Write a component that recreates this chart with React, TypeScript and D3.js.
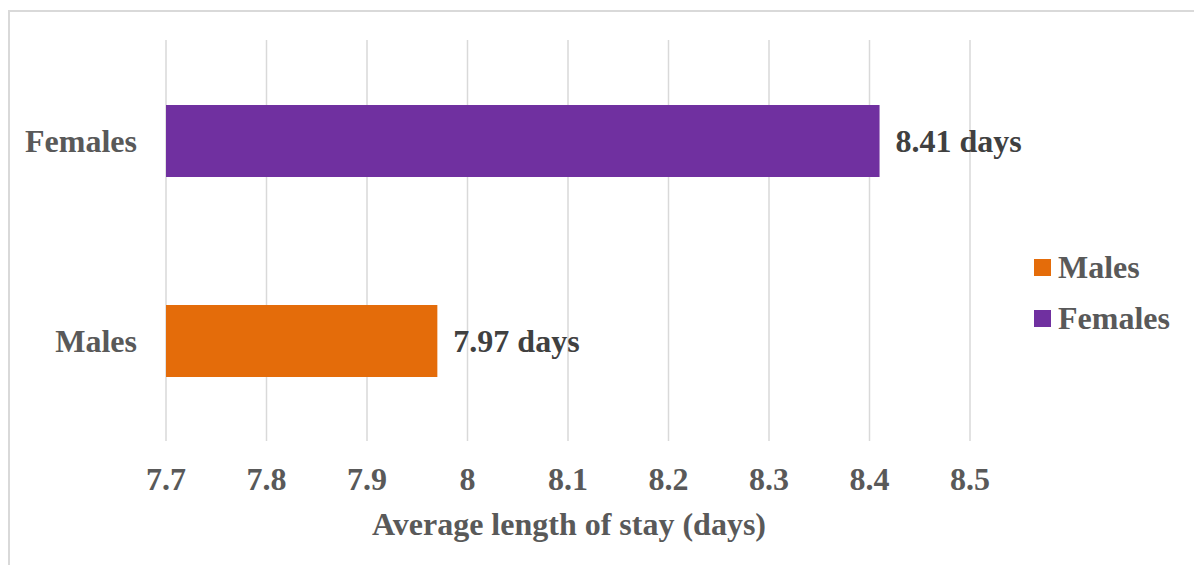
import React from "react";
import * as d3 from "d3";

const categories = ["Females", "Males"];
const values = [8.41, 7.97];
const labels = ["8.41 days", "7.97 days"];
const tickValues = [7.7, 7.8, 7.9, 8.0, 8.1, 8.2, 8.3, 8.4, 8.5];
const tickLabels = ["7.7", "7.8", "7.9", "8", "8.1", "8.2", "8.3", "8.4", "8.5"];
const legendItems = ["Males", "Females"];
const colors: Record<string, string> = { Females: "#7030A0", Males: "#E46C0A" };

const W = 1194;
const H = 565;
const FONT = "'Liberation Serif', 'Times New Roman', serif";
const FS = 32;

export default function App() {
  const x = d3.scaleLinear().domain([7.7, 8.5]).range([166, 970]);
  const y = d3
    .scaleBand<string>()
    .domain(categories)
    .range([41, 441])
    .paddingInner(0.64)
    .paddingOuter(0.32);
  const bw = y.bandwidth();

  return (
    <svg
      width={W}
      height={H}
      style={{ position: "absolute", left: 0, top: 0, background: "#fff" }}
      fontFamily={FONT}
      fontWeight="bold"
    >
      <rect x={9} y={11} width={W + 20} height={H + 20} fill="#fff" stroke="#d9d9d9" strokeWidth={2} />
      {tickValues.map((t) => (
        <line key={t} x1={x(t)} x2={x(t)} y1={40} y2={441} stroke="#d9d9d9" strokeWidth={1.5} />
      ))}
      {categories.map((c, i) => (
        <g key={c}>
          <rect x={x(7.7)} y={y(c)} width={x(values[i]) - x(7.7)} height={bw} fill={colors[c]} />
          <text x={137} y={(y(c) as number) + bw / 2 + 10.5} textAnchor="end" fontSize={FS} fill="#595959">
            {c}
          </text>
          <text x={x(values[i]) + 16} y={(y(c) as number) + bw / 2 + 11} fontSize={FS} fill="#404040">
            {labels[i]}
          </text>
        </g>
      ))}
      {tickValues.map((t, i) => (
        <text key={t} x={x(t)} y={490} textAnchor="middle" fontSize={FS} fill="#595959">
          {tickLabels[i]}
        </text>
      ))}
      <text x={(x(7.7) + x(8.5)) / 2 + 1} y={535} textAnchor="middle" fontSize={FS} fill="#595959">
        Average length of stay (days)
      </text>
      {legendItems.map((l, i) => (
        <g key={l}>
          <rect x={1034} y={259 + i * 51} width={17} height={17} fill={colors[l]} />
          <text x={1058} y={278 + i * 51} fontSize={FS} fill="#595959">
            {l}
          </text>
        </g>
      ))}
    </svg>
  );
}
